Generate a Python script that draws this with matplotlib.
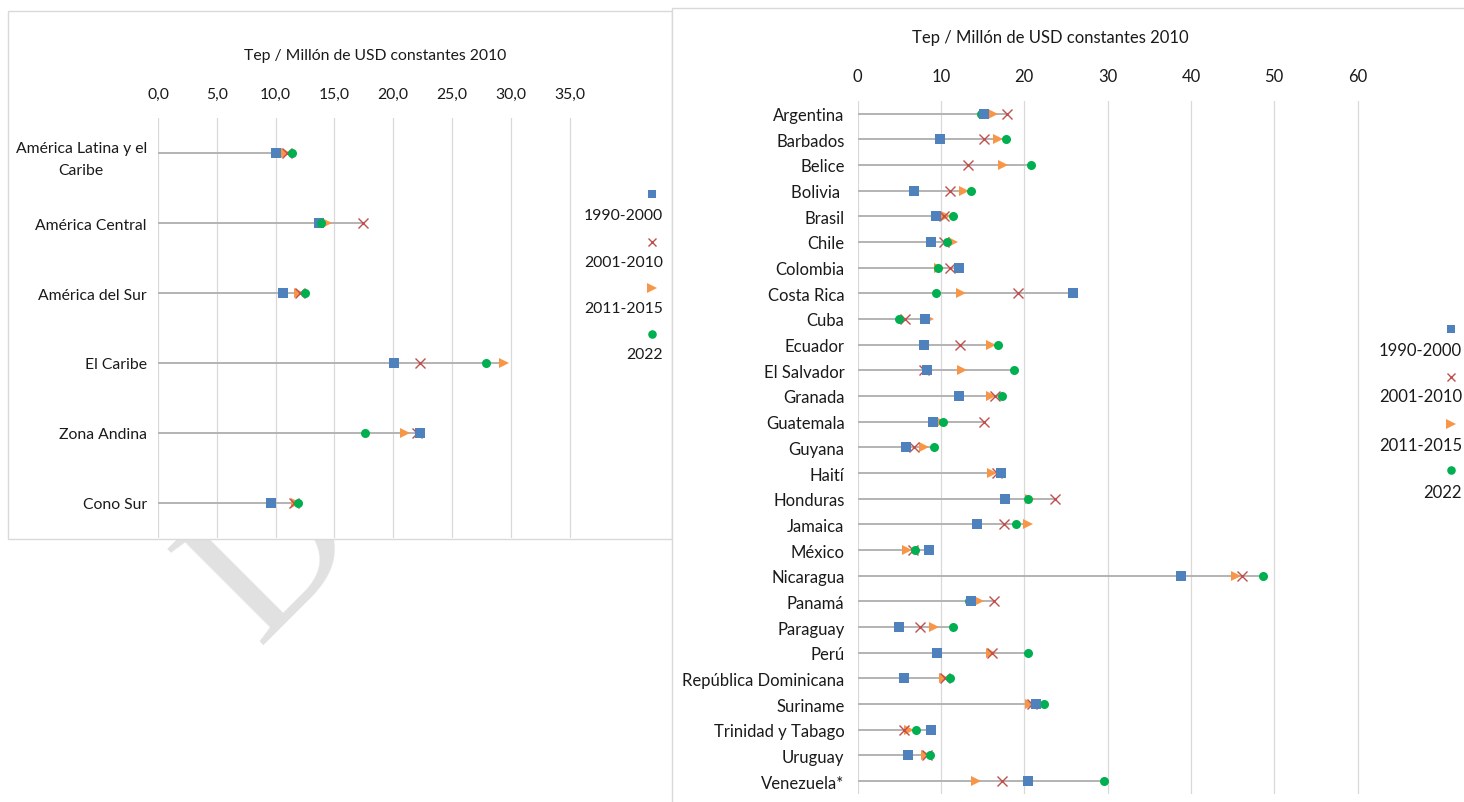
import numpy as np
import matplotlib
matplotlib.use("Agg")
import matplotlib.pyplot as plt
from matplotlib.lines import Line2D
from matplotlib.patches import Rectangle
from matplotlib.ticker import FuncFormatter, MultipleLocator

plt.rcParams["font.family"] = ["Lato", "DejaVu Sans"]

periodos = ["1990-2000", "2001-2010", "2011-2015", "2022"]

# regiones
regiones = ["América Latina y el\nCaribe", "América Central", "América del Sur",
            "El Caribe", "Zona Andina", "Cono Sur"]
reg_1990 = [10.0, 13.7, 10.6, 20.1, 22.3, 9.6]
reg_2001 = [11.0, 17.4, 12.1, 22.3, 22.0, 11.6]
reg_2011 = [10.85, 14.4, 12.0, 29.4, 21.0, 11.7]
reg_2022 = [11.4, 13.9, 12.5, 27.9, 17.6, 11.9]

# países
paises = ["Argentina", "Barbados", "Belice", "Bolivia ", "Brasil", "Chile",
          "Colombia", "Costa Rica", "Cuba", "Ecuador", "El Salvador", "Granada",
          "Guatemala", "Guyana", "Haití", "Honduras", "Jamaica", "México",
          "Nicaragua", "Panamá", "Paraguay", "Perú", "República Dominicana",
          "Suriname", "Trinidad y Tabago", "Uruguay", "Venezuela*"]
pais_1990 = [15.2, 9.9, np.nan, 6.7, 9.4, 8.8, 12.2, 25.9, 8.1, 8.0, 8.3, 12.2,
             9.0, 5.8, 17.2, 17.7, 14.3, 8.5, 38.8, 13.6, 5.0, 9.5, 5.5,
             21.4, 8.8, 6.0, 20.4]
pais_2001 = [17.9, 15.2, 13.3, 11.1, 10.4, 10.4, 11.1, 19.3, 5.7, 12.3, 7.9, 16.5,
             15.2, 6.7, 16.7, 23.7, 17.6, 6.6, 46.1, 16.4, 7.5, 16.1, 10.5,
             20.9, 5.6, 8.3, 17.3]
pais_2011 = [16.3, 16.9, 17.5, 12.8, 10.6, 11.5, 9.8, 12.4, 8.5, 16.0, 12.5, 16.0,
             10.0, 8.0, 16.1, 20.7, 20.4, 5.9, 45.4, 14.6, 9.1, 16.0, 10.4,
             20.7, 6.1, 8.2, 14.2]
pais_2022 = [14.8, 17.8, 20.8, 13.6, 11.4, 10.7, 9.6, 9.4, 5.0, 16.9, 18.8, 17.3,
             10.3, 9.2, np.nan, 20.4, 19.0, 6.9, 48.7, 13.4, 11.4, 20.4, 11.1,
             22.4, 7.0, 8.7, 29.6]

W, H = 1464, 803
fig = plt.figure(figsize=(W / 100, H / 100), dpi=100)
fig.patch.set_facecolor("white")

TXT = "#1a1a1a"
GRID = "#d9d9d9"
LINEA = "#b3b3b3"
FS_REG = 11.3
FS_PAIS = 12.0

# estilos de marcador por periodo
estilos = {
    "1990-2000": dict(marker="s", color="#4f81bd", ms=6.8, mew=0),
    "2001-2010": dict(marker="x", color="#c0504d", ms=6.5, mew=1.0),
    "2011-2015": dict(marker=">", color="#f79646", ms=7.5, mew=0),
    "2022": dict(marker="o", color="#00b050", ms=6.5, mew=0),
}


def px(x, y):
    return x / W, 1 - y / H


# marca de agua de fondo
fig.text(*px(258, 645), "D", fontsize=150, family="Liberation Serif",
         color="#e1e1e1", rotation=45, rotation_mode="anchor",
         ha="left", va="baseline", zorder=-3)

# marcos de los dos gráficos
fig.add_artist(Rectangle(px(8, 540), (672 - 8) / W, (540 - 12) / H,
                         transform=fig.transFigure, facecolor="white",
                         edgecolor=GRID, lw=1, zorder=-2))
fig.add_artist(Rectangle(px(672, 820), (1480 - 672) / W, (820 - 9) / H,
                         transform=fig.transFigure, facecolor="white",
                         edgecolor=GRID, lw=1, zorder=-2))


def dibujar(ax, etiquetas, series, orden, xmax, paso, fmt, fsize, pad_y):
    n = len(etiquetas)
    y = np.arange(n)
    datos = np.array(series, dtype=float)
    extremo = np.nanmax(datos, axis=0)
    ax.hlines(y, 0, extremo, color=LINEA, lw=1.4, zorder=2)
    for per in periodos:
        k = periodos.index(per)
        st = estilos[per]
        ax.plot(datos[k], y, linestyle="none", marker=st["marker"],
                color=st["color"], markersize=st["ms"], mew=st["mew"],
                zorder=3 + orden.index(per), clip_on=False)
    ax.set_xlim(0, xmax)
    ax.set_ylim(n - 0.5, -0.5)
    ax.xaxis.set_major_locator(MultipleLocator(paso))
    ax.xaxis.set_major_formatter(FuncFormatter(fmt))
    ax.xaxis.tick_top()
    ax.grid(axis="x", color=GRID, lw=0.9)
    ax.set_axisbelow(True)
    ax.set_yticks(y)
    ax.set_yticklabels(etiquetas, multialignment="center", linespacing=1.75)
    ax.tick_params(axis="both", length=0, labelsize=fsize, colors=TXT)
    ax.tick_params(axis="x", pad=12)
    ax.tick_params(axis="y", pad=pad_y)
    for s in ax.spines.values():
        s.set_visible(False)
    ax.set_facecolor("none")


# panel de regiones
l, b = px(158, 539)
r, t = px(158 + 37 * 11.76, 119)
ax1 = fig.add_axes([l, b, r - l, t - b])
dibujar(ax1, regiones, [reg_1990, reg_2001, reg_2011, reg_2022],
        ["2011-2015", "2001-2010", "1990-2000", "2022"],
        37, 5, lambda v, p: f"{v:.1f}".replace(".", ","), FS_REG, 8)
ax1.set_xticks(np.arange(0, 36, 5))

# panel de países
l, b = px(857.7, 795)
r, t = px(857.7 + 66 * 8.33, 101.7)
ax2 = fig.add_axes([l, b, r - l, t - b])
dibujar(ax2, paises, [pais_1990, pais_2001, pais_2011, pais_2022],
        ["2011-2015", "2001-2010", "2022", "1990-2000"],
        66, 10, lambda v, p: f"{v:.0f}", FS_PAIS, 9.5)
ax2.set_xticks(np.arange(0, 61, 10))

titulo = "Tep / Millón de USD constantes 2010"
fig.text(*px(375, 56), titulo, ha="center", va="center", fontsize=FS_REG, color=TXT)
fig.text(*px(1050, 38), titulo, ha="center", va="center", fontsize=FS_PAIS, color=TXT)


# leyendas: marcador arriba y texto debajo
def leyenda(xm, xt, ym, yt, fsize):
    for per, a, c in zip(periodos, ym, yt):
        st = estilos[per]
        fig.add_artist(Line2D([xm / W], [1 - a / H], transform=fig.transFigure,
                              linestyle="none", marker=st["marker"],
                              color=st["color"], markersize=st["ms"] * 0.95,
                              mew=st["mew"]))
        fig.text(*px(xt, c), per, ha="right", va="center", fontsize=fsize, color=TXT)


leyenda(652, 663, [195, 243, 289, 335], [216, 263, 309, 355], FS_REG)
leyenda(1451, 1462, [330, 378, 425, 471], [351, 397, 446, 493], FS_PAIS)

fig.savefig("out.png", dpi=100, facecolor="white")
